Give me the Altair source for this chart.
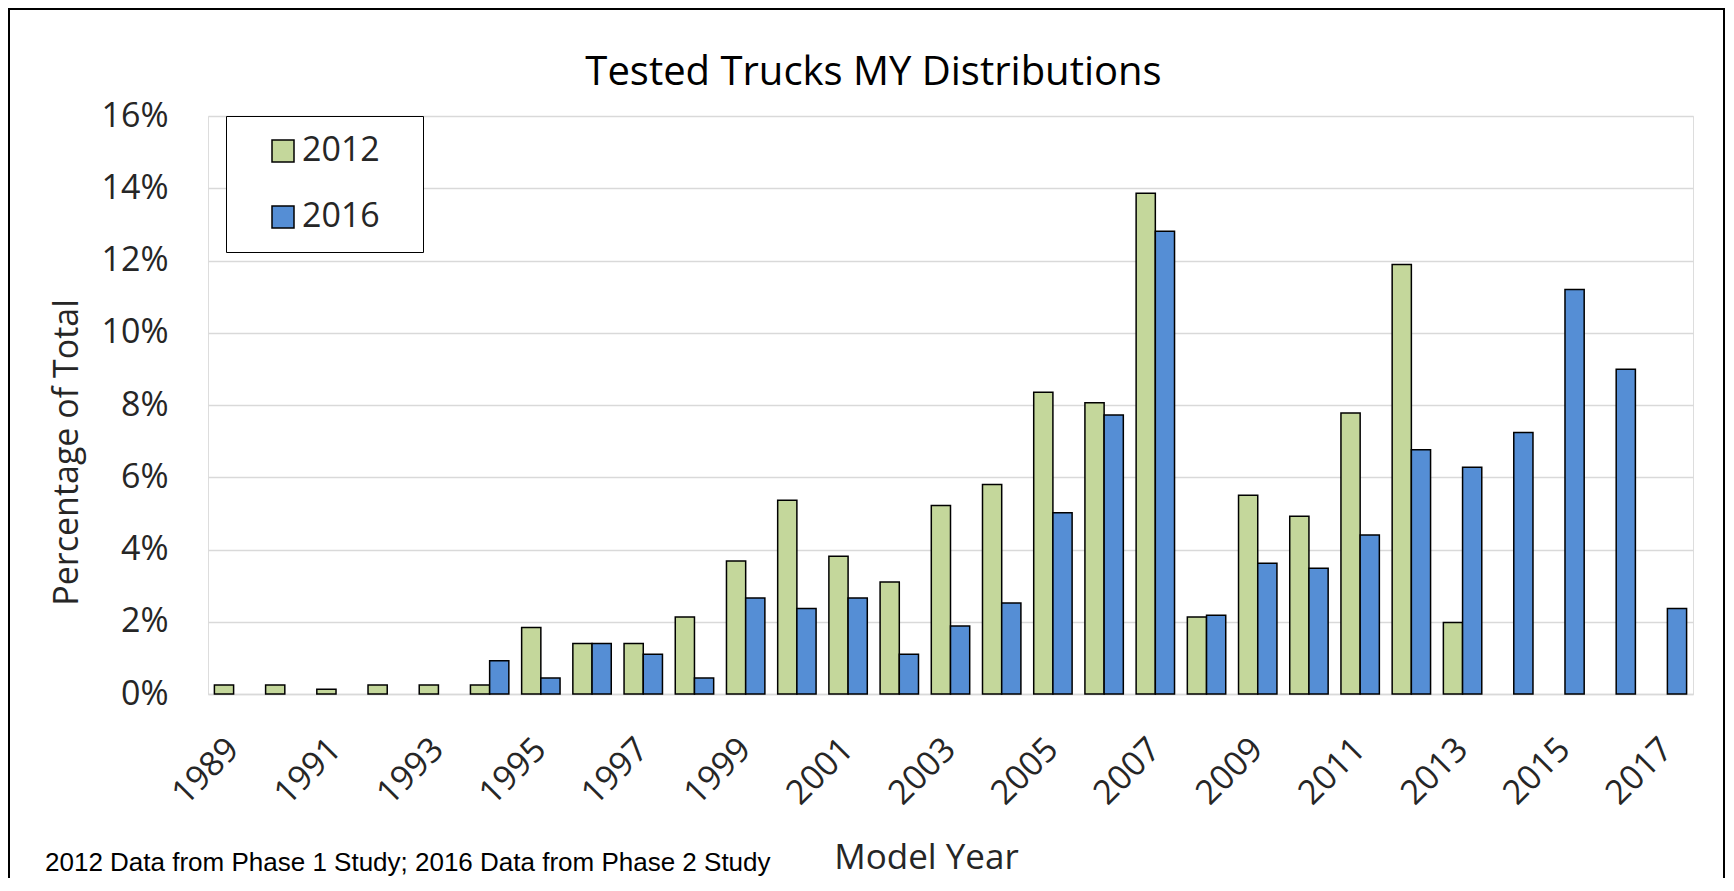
import altair as alt
import pandas as pd

years = list(range(1989, 2018))
label_years = list(range(1989, 2018, 2))
series_names = ["2012", "2016"]
pct_2012 = [0.25, 0.25, 0.13, 0.25, 0.25, 0.25, 1.84, 1.40, 1.40, 2.13,
            3.68, 5.36, 3.81, 3.10, 5.22, 5.80, 8.35, 8.06, 13.86, 2.13,
            5.50, 4.92, 7.78, 11.89, 1.98, None, None, None, None]
pct_2016 = [None, None, None, None, None, 0.92, 0.44, 1.40, 1.10, 0.44,
            2.66, 2.37, 2.66, 1.10, 1.88, 2.52, 5.02, 7.72, 12.81, 2.18,
            3.62, 3.48, 4.40, 6.76, 6.28, 7.24, 11.20, 8.99, 2.37]
y_ticks = [0, 2, 4, 6, 8, 10, 12, 14, 16]
colors = ["#C4D79B", "#558ED5"]

rows = []
for name, vals in zip(series_names, [pct_2012, pct_2016]):
    for yr, v in zip(years, vals):
        if v is not None:
            rows.append({"Year": yr, "Series": name, "Value": v})
df = pd.DataFrame(rows)

FONT = "Open Sans"

bars = alt.Chart(df).mark_bar(stroke="black", strokeWidth=1.5).encode(
    x=alt.X("Year:O",
            scale=alt.Scale(paddingInner=0.25, paddingOuter=0.125),
            axis=alt.Axis(values=label_years, labelAngle=-45, labelFont=FONT,
                          labelFontSize=34, labelColor="#262626", labelPadding=38,
                          labelOffset=-12, ticks=False, tickSize=0,
                          domainColor="#D9D9D9", domainWidth=1.5, grid=False,
                          title="Model Year", titleFont=FONT, titleFontSize=35,
                          titleFontWeight="normal", titleColor="#262626",
                          titleX=718, titleY=174, titleBaseline="alphabetic",
                          titleAlign="center")),
    xOffset=alt.XOffset("Series:N", sort=series_names,
                        scale=alt.Scale(paddingInner=0, paddingOuter=0)),
    y=alt.Y("Value:Q",
            scale=alt.Scale(domain=[0, 16]),
            axis=alt.Axis(values=y_ticks, labelExpr="datum.value + '%'",
                          labelFont=FONT, labelFontSize=34, labelColor="#262626",
                          labelPadding=40, ticks=False, tickSize=0, domain=False,
                          gridColor="#D9D9D9", gridWidth=1.5,
                          title="Percentage of Total", titleFont=FONT,
                          titleFontSize=34, titleFontWeight="normal",
                          titleColor="#262626", titleX=-141, titleY=336,
                          titleAlign="center", titleBaseline="middle")),
    color=alt.Color("Series:N",
                    scale=alt.Scale(domain=series_names, range=colors),
                    legend=alt.Legend(title=None, orient="none", legendX=18,
                                      legendY=0, symbolType="square",
                                      symbolSize=484, symbolStrokeColor="black",
                                      symbolStrokeWidth=1.5, symbolOffset=22,
                                      labelFont=FONT, labelFontSize=34,
                                      labelColor="#262626", labelOffset=2,
                                      labelExpr="datum.label + '\u2800'",
                                      strokeColor="black", padding=18,
                                      rowPadding=32, fillColor="white")),
)

one = pd.DataFrame({"note": ["2012 Data from Phase 1 Study; 2016 Data from Phase 2 Study"]})

border = alt.Chart(one).mark_rect(filled=False, stroke="black", strokeWidth=2).encode(
    x=alt.value(-199), x2=alt.value(1516), y=alt.value(-107), y2=alt.value(900)
)

note = alt.Chart(one).mark_text(font="Liberation Sans", fontSize=26, align="left",
                                baseline="alphabetic", color="black").encode(
    x=alt.value(-163), y=alt.value(755), text="note:N"
)

chart = alt.layer(bars, border, note).properties(
    width=1485, height=578,
    title=alt.TitleParams("Tested Trucks MY Distributions", font=FONT,
                          fontSize=40, fontWeight="normal", color="black",
                          anchor="middle", baseline="alphabetic", dx=-77,
                          offset=4, dy=121),
    autosize=alt.AutoSizeParams(type="none"),
    padding={"left": 200, "top": 108, "right": 33, "bottom": 184},
).configure_view(stroke=None).configure(background="white")

chart.save("out.html", embed_options={"renderer": "svg", "actions": False})
